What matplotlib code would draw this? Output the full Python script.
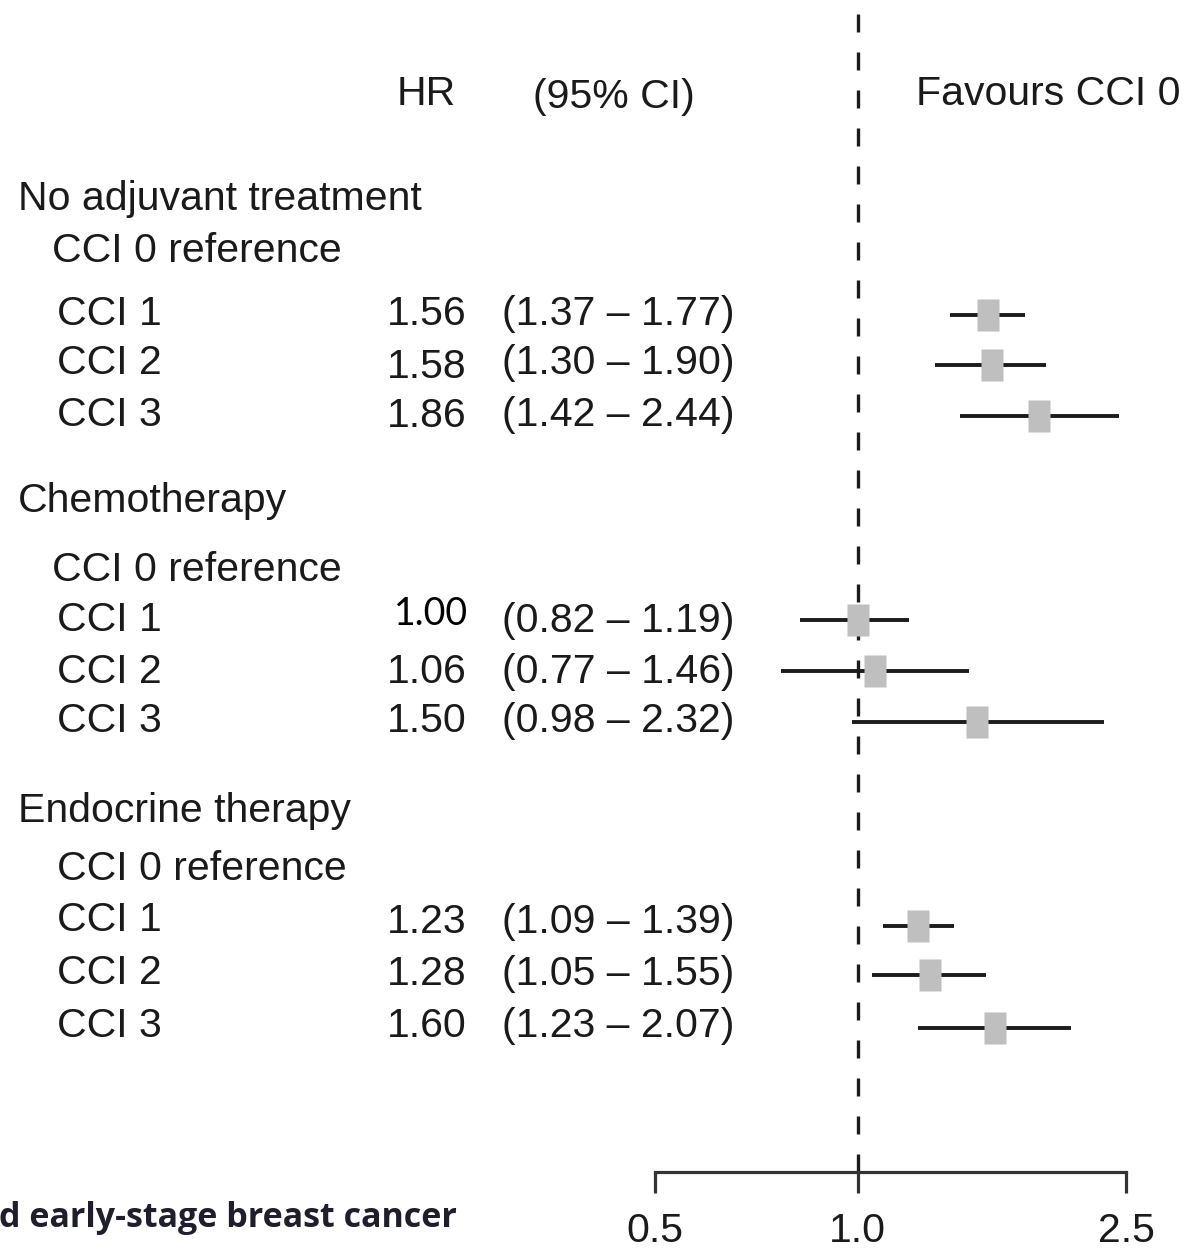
import matplotlib
matplotlib.use("Agg")
import matplotlib.pyplot as plt
from matplotlib import transforms
from matplotlib.ticker import NullLocator

# ---- data -------------------------------------------------------------
groups = ["No adjuvant treatment", "Chemotherapy", "Endocrine therapy"]
levels = ["CCI 1", "CCI 2", "CCI 3"]
ref_label = "CCI 0 reference"
hr = [[1.56, 1.58, 1.86], [1.00, 1.06, 1.50], [1.23, 1.28, 1.60]]
ci_low = [[1.37, 1.30, 1.42], [0.82, 0.77, 0.98], [1.09, 1.05, 1.23]]
ci_high = [[1.77, 1.90, 2.44], [1.19, 1.46, 2.32], [1.39, 1.55, 2.07]]
x_ticks = [0.5, 1.0, 2.5]
x_tick_labels = ["0.5", "1.0", "2.5"]
header_hr = "HR"
header_ci = "(95% CI)"
header_fav = "Favours CCI 0"
caption = "d early-stage breast cancer"

# ---- layout (vertical positions in pixels from the top) -------------------
W, H = 1187, 1254
group_base = [210, 512, 822]
ref_base = [262, 581, 880]
ref_x = [52, 52, 57]
label_base = [[325, 374, 426], [631, 683, 732], [931, 984, 1037]]
hr_base = [[325, 378, 427], [625, 683, 732], [933, 985, 1037]]
ci_base = [[325, 374, 426], [632, 683, 732], [933, 985, 1037]]
mark_y = [[315, 365, 416], [620, 671, 722], [926, 975, 1028]]
axis_y = 1172
retyped = {(1, 0)}  # cell whose HR was typed in a different font

TXT = "#1a1a1a"
LINE = "#1c1c1c"
BOX = "#bfbfbf"
FS = 29.5
plt.rcParams["font.family"] = ["Liberation Sans", "DejaVu Sans"]

fig = plt.figure(figsize=(W / 100, H / 100), dpi=100)
ax = fig.add_axes([0, 0, 1, 1])
ax.set_xscale("log")
ax.set_xlim(0.05333, 3.079)
ax.set_ylim(H, 0)
ax.patch.set_alpha(0)

for s in ("left", "right", "top"):
    ax.spines[s].set_visible(False)
ax.spines["bottom"].set_position(("data", axis_y))
ax.spines["bottom"].set_bounds(x_ticks[0], x_ticks[-1])
ax.spines["bottom"].set_linewidth(2.3)
ax.spines["bottom"].set_color("#333333")
ax.set_yticks([])
ax.set_xticks(x_ticks)
ax.set_xticklabels(x_tick_labels)
ax.xaxis.set_minor_locator(NullLocator())
ax.tick_params(axis="x", direction="out", length=15, width=2.3, color="#333333",
               labelsize=FS, labelcolor=TXT, pad=14)

# reference line at HR = 1
ax.plot([1.0, 1.0], [axis_y, 12], color=LINE, lw=2.4,
        linestyle=(0, (5.4, 6.0)), zorder=1)

# text helpers: x in pixels, y baseline in pixels
bt = transforms.blended_transform_factory(ax.transAxes, ax.transData)


def put(xpx, ypx, s, ha="left", **kw):
    kw.setdefault("fontsize", FS)
    kw.setdefault("color", TXT)
    ax.text(xpx / W, ypx, s, transform=bt, ha=ha, va="baseline", **kw)


put(397, 105, header_hr)
put(533, 108, header_ci)
put(1181, 105, header_fav, ha="right")

# marker shape: upright rectangle
rect = [(-0.68, -1), (0.68, -1), (0.68, 1), (-0.68, 1), (-0.68, -1)]

for g, name in enumerate(groups):
    put(18, group_base[g], name)
    put(ref_x[g], ref_base[g], ref_label)
    for i, lev in enumerate(levels):
        put(57, label_base[g][i], lev)
        v = hr[g][i]
        if (g, i) in retyped:
            put(468, hr_base[g][i], f"{v:.2f}", ha="right", color="black",
                family=["Lato", "DejaVu Sans"], fontsize=27)
        else:
            put(467, hr_base[g][i], f"{v:.2f}", ha="right")
        put(502, ci_base[g][i], f"({ci_low[g][i]:.2f} \u2013 {ci_high[g][i]:.2f})")

        ax.plot([ci_low[g][i], ci_high[g][i]], [mark_y[g][i]] * 2,
                color=LINE, lw=2.8, solid_capstyle="butt", zorder=2)
        ax.plot([v], [mark_y[g][i]], marker=rect, ls="none", ms=23,
                color=BOX, mec="none", zorder=3)

put(457, 1227, caption, ha="right", fontsize=24.5, fontweight="bold",
    color="#1f1f2b", family=["Open Sans", "DejaVu Sans"])

fig.savefig("out.png", dpi=100, facecolor="white")
